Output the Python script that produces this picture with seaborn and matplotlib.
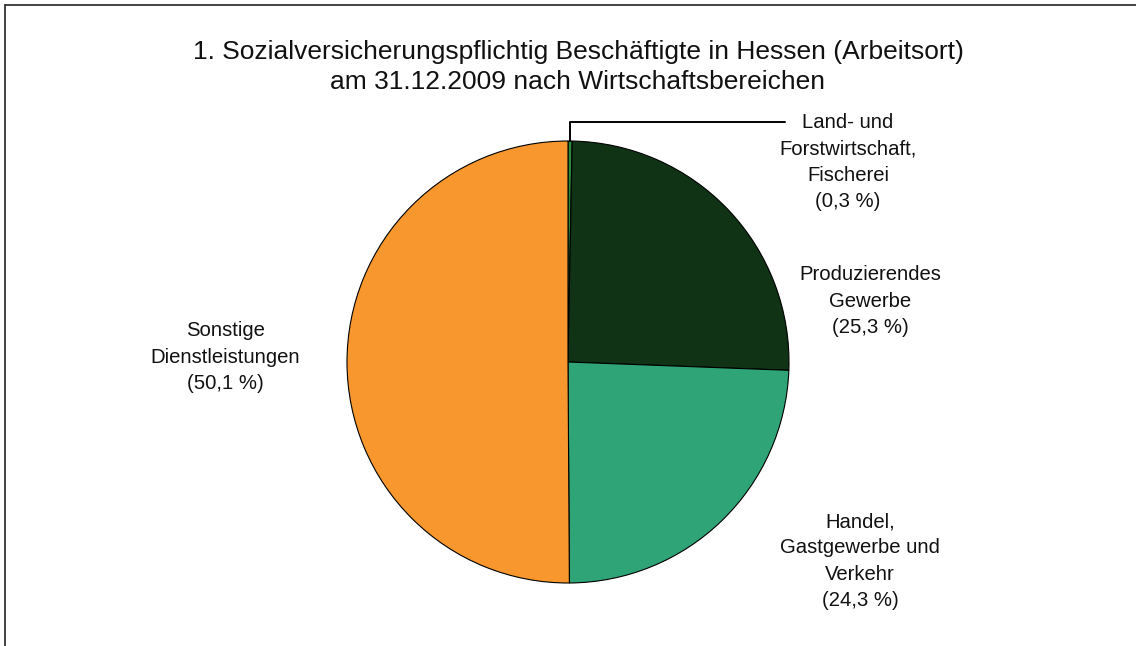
import numpy as np
import seaborn as sns
import matplotlib.pyplot as plt
from matplotlib.lines import Line2D

# data
sectors = ['Land- und\nForstwirtschaft,\nFischerei', 'Produzierendes\nGewerbe',
           'Handel,\nGastgewerbe und\nVerkehr', 'Sonstige\nDienstleistungen']
shares = [0.3, 25.3, 24.3, 50.1]
colors = ['#2b8a3e', '#0f3314', '#2fa577', '#f7972e']

sns.set_theme(style='white')
plt.rcParams['font.family'] = ['Liberation Sans', 'DejaVu Sans']

fig = plt.figure(figsize=(11.36, 6.46), dpi=100)
W, H = 1136, 646
cx, cy, r = 568, 362, 221
ax = fig.add_axes([(cx - r) / W, (H - cy - r) / H, 2 * r / W, 2 * r / H])

wedges, _ = ax.pie(shares, colors=colors, startangle=90, counterclock=False,
                   radius=1, wedgeprops=dict(edgecolor='black', linewidth=0.8))
ax.set_xlim(-1, 1)
ax.set_ylim(-1, 1)
ax.set_aspect('equal')
ax.axis('off')

fs = 14.6
lab = [f'{s}\n({str(v).replace(".", ",")} %)' for s, v in zip(sectors, shares)]

# label positions in pixels (x centre, y centre)
pos = [(848, 162), (870, 301), (860, 561), (225, 357)]
for (px, py), t in zip(pos, lab):
    fig.text(px / W, 1 - py / H, t, ha='center', va='center', fontsize=fs,
             linespacing=1.48, color='#111111')

# leader line for the small slice
w0 = wedges[0]
ang = np.deg2rad((w0.theta1 + w0.theta2) / 2)
xy = (np.cos(ang), np.sin(ang))
ax.annotate('', xy=xy, xytext=((785 - cx) / r, (cy - 122) / r),
            arrowprops=dict(arrowstyle='-', color='black', lw=1.4,
                            connectionstyle='angle,angleA=0,angleB=90,rad=0',
                            shrinkA=0, shrinkB=0),
            annotation_clip=False)

fig.text(578 / W, 1 - 67 / H,
         '1. Sozialversicherungspflichtig Beschäftigte in Hessen (Arbeitsort)\n'
         'am 31.12.2009 nach Wirtschaftsbereichen',
         ha='center', va='center', fontsize=19, linespacing=1.36, color='#111111')

# frame (top and left only)
fig.add_artist(Line2D([5 / W, 1], [1 - 4.5 / H] * 2, color='#333333', lw=1.3,
                      transform=fig.transFigure))
fig.add_artist(Line2D([5 / W] * 2, [0, 1 - 4.5 / H], color='#333333', lw=1.3,
                      transform=fig.transFigure))

fig.savefig('out.png', dpi=100, facecolor='white')
